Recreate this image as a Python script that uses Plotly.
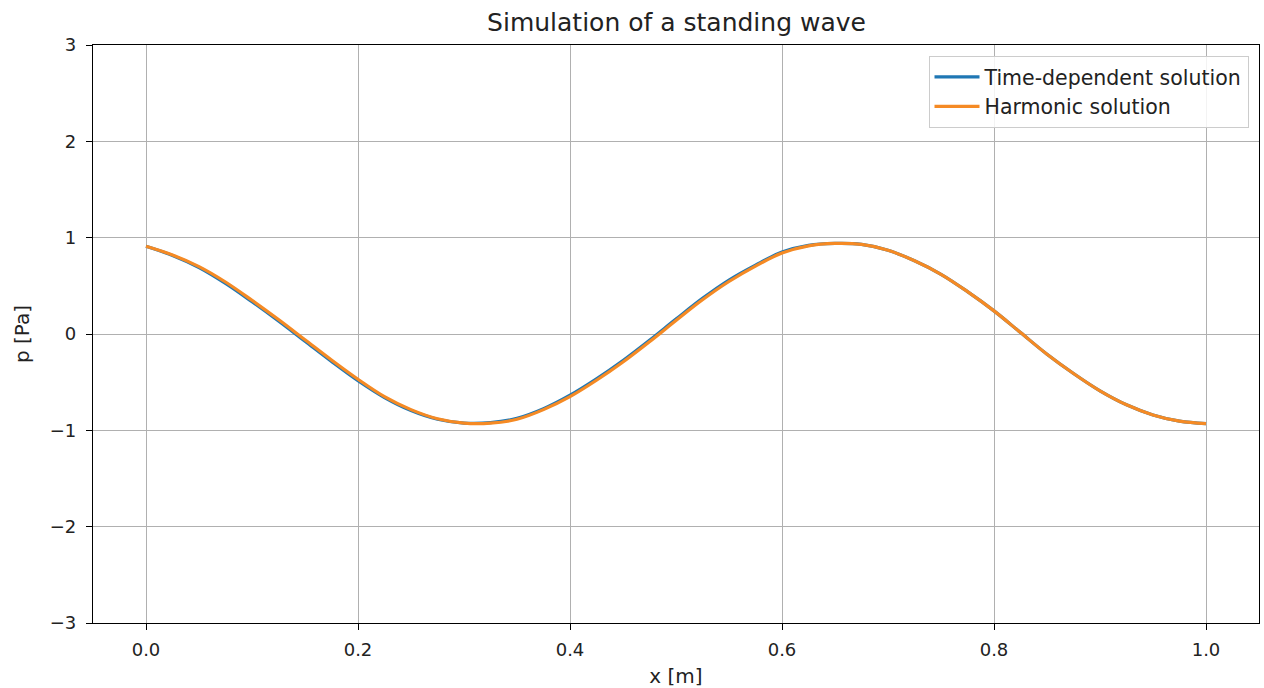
import plotly.graph_objects as go

# Pressure profile along the tube at the final time step
x_m = [0.000, 0.025, 0.050, 0.075, 0.100, 0.125, 0.150, 0.175, 0.200, 0.225,
       0.250, 0.275, 0.300, 0.325, 0.350, 0.375, 0.400, 0.425, 0.450, 0.475,
       0.500, 0.525, 0.550, 0.575, 0.600, 0.625, 0.650, 0.675, 0.700, 0.725,
       0.750, 0.775, 0.800, 0.825, 0.850, 0.875, 0.900, 0.925, 0.950, 0.975,
       1.000]
p_time_dependent = [0.910, 0.815, 0.690, 0.525, 0.335, 0.135, -0.075, -0.285, -0.485, -0.660,
                    -0.795, -0.885, -0.925, -0.920, -0.875, -0.775, -0.635, -0.465, -0.275, -0.065,
                    0.155, 0.370, 0.560, 0.715, 0.850, 0.920, 0.940, 0.930, 0.870, 0.760,
                    0.620, 0.440, 0.240, 0.015, -0.210, -0.410, -0.590, -0.735, -0.840, -0.905,
                    -0.930]
p_harmonic = [0.910, 0.820, 0.700, 0.540, 0.350, 0.150, -0.060, -0.270, -0.470, -0.650,
              -0.785, -0.880, -0.925, -0.925, -0.885, -0.785, -0.650, -0.480, -0.290, -0.080,
              0.140, 0.355, 0.545, 0.705, 0.840, 0.915, 0.940, 0.930, 0.870, 0.760,
              0.620, 0.440, 0.240, 0.015, -0.210, -0.410, -0.590, -0.735, -0.840, -0.905,
              -0.930]

x_ticks = [0.0, 0.2, 0.4, 0.6, 0.8, 1.0]
x_tick_text = ["0.0", "0.2", "0.4", "0.6", "0.8", "1.0"]
y_ticks = [-3, -2, -1, 0, 1, 2, 3]
y_tick_text = ["\u22123", "\u22122", "\u22121", "0", "1", "2", "3"]

FONT = "DejaVu Sans"
TEXT = "#222222"
GRID = "#b0b0b0"

fig = go.Figure()
fig.add_trace(go.Scatter(
    x=x_m, y=p_time_dependent, mode="lines", name="Time-dependent solution",
    line=dict(color="#1f77b4", width=3.2, shape="spline", smoothing=1.0),
))
fig.add_trace(go.Scatter(
    x=x_m, y=p_harmonic, mode="lines", name="Harmonic solution",
    line=dict(color="#f58a24", width=3.2, shape="spline", smoothing=1.0),
))

axis_common = dict(
    showline=True, linecolor="#000000", linewidth=1.2, mirror=True,
    ticks="outside", ticklen=6, tickwidth=1.2, tickcolor="#000000",
    showgrid=True, gridcolor=GRID, gridwidth=1, zeroline=False,
    tickfont=dict(family=FONT, size=18, color=TEXT),
)

fig.update_layout(
    width=1264, height=688,
    margin=dict(l=93, r=4, t=45, b=63),
    paper_bgcolor="#ffffff", plot_bgcolor="#ffffff",
    title=dict(text="Simulation of a standing wave", x=(93 + 1260) / 2 / 1264, xanchor="center",
               y=1 - 22 / 688, yanchor="middle",
               font=dict(family=FONT, size=25, color=TEXT)),
    xaxis=dict(range=[-0.05, 1.05], tickvals=x_ticks, ticktext=x_tick_text,
               ticklabelstandoff=4,
               title=dict(text="x [m]", standoff=10, font=dict(family=FONT, size=20, color=TEXT)),
               **axis_common),
    yaxis=dict(range=[-3, 3], tickvals=y_ticks, ticktext=y_tick_text,
               ticklabelstandoff=6,
               title=dict(text="p [Pa]", standoff=14, font=dict(family=FONT, size=20, color=TEXT)),
               **axis_common),
    legend=dict(x=0.991, y=0.981, xanchor="right", yanchor="top",
                bgcolor="rgba(255,255,255,0.85)", bordercolor="#cccccc", borderwidth=1,
                font=dict(family=FONT, size=20.5, color=TEXT), tracegroupgap=0,
                itemwidth=45),
    showlegend=True,
)

fig.write_html("out.html")
